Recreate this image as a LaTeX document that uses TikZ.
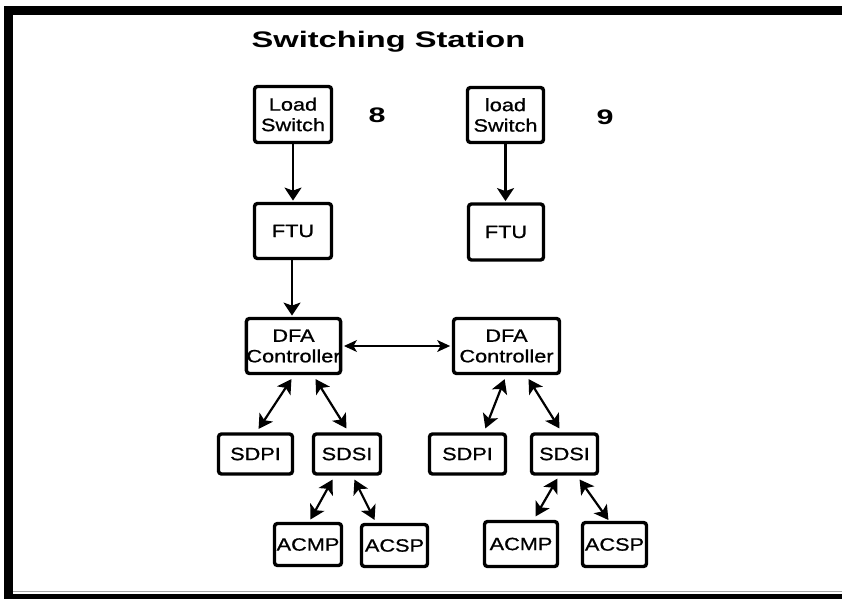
\documentclass[tikz,border=0pt]{standalone}
\usepackage{fontspec}
\setmainfont{Liberation Sans}
\newfontfamily\labelfont[FakeStretch=1.22,FakeBold=0.9]{Liberation Sans}
\newfontfamily\headfont[FakeStretch=1.45]{Liberation Sans}
\usetikzlibrary{arrows.meta}

\tikzset{
  unit/.style={draw, line width=3.4pt, rounded corners=3pt, inner sep=0pt,
    align=center, font=\labelfont\fontsize{17.8}{20.5}\selectfont},
  link/.style={line width=2.2pt, -{Stealth[length=13pt,width=17pt,inset=3pt]}, shorten >=1.2pt},
  duplex/.style={line width=2.2pt, {Stealth[length=14pt,width=16pt,inset=3.5pt]}-{Stealth[length=14pt,width=16pt,inset=3.5pt]}, shorten >=1pt, shorten <=1pt},
  peer/.style={line width=1.1pt, {Stealth[length=13pt,width=12pt,inset=3.5pt]}-{Stealth[length=13pt,width=12pt,inset=3.5pt]}, shorten >=1.7pt, shorten <=1.7pt},
  heading/.style={font=\headfont\bfseries\fontsize{22.5}{26}\selectfont, inner sep=0pt},
  tag/.style={font=\headfont\bfseries\fontsize{21}{24}\selectfont, inner sep=0pt}
}

\begin{document}
\begin{tikzpicture}[x=1pt, y=-1pt]
  \useasboundingbox (0,0) rectangle (842,599);
  \fill[white] (0,0) rectangle (842,599);

  % frame bars on top, left and bottom
  \fill[black] (4,6) rectangle (842,15);
  \fill[black] (4,6) rectangle (13,599);
  \fill[black] (4,593.5) rectangle (842,599);
  \draw[gray!70, line width=0.8pt] (13,591.5) -- (842,591.5);

  % title and station numbers
  \node[heading, anchor=base] (title) at (388.5,48) {Switching Station};
  \node[tag] (n8) at (377,115) {8};
  \node[tag] (n9) at (605,117) {9};

  % switches and terminal units
  \node[unit, minimum width=77pt, minimum height=56pt] (ls1) at (293,114.5) {Load\\Switch};
  \node[unit, minimum width=76pt, minimum height=55pt] (ls2) at (505.5,115) {load\\Switch};
  \node[unit, minimum width=77pt, minimum height=55pt] (ftu1) at (293,231) {FTU};
  \node[unit, minimum width=75pt, minimum height=56pt] (ftu2) at (506,232) {FTU};

  % controllers
  \node[unit, minimum width=94pt, minimum height=55pt] (dfa1) at (293.5,346) {DFA\\Controller};
  \node[unit, minimum width=106pt, minimum height=55pt] (dfa2) at (506.5,346) {DFA\\Controller};

  % interfaces
  \node[unit, minimum width=74pt, minimum height=40pt] (sdpi1) at (255.5,454) {SDPI};
  \node[unit, minimum width=67pt, minimum height=40pt] (sdsi1) at (347,454) {SDSI};
  \node[unit, minimum width=76pt, minimum height=40pt] (sdpi2) at (467.5,454) {SDPI};
  \node[unit, minimum width=66pt, minimum height=40pt] (sdsi2) at (564.5,454) {SDSI};

  % processors
  \node[unit, minimum width=67pt, minimum height=42pt] (acmp1) at (308,544.5) {ACMP};
  \node[unit, minimum width=66pt, minimum height=42pt] (acsp1) at (394.5,545.5) {ACSP};
  \node[unit, minimum width=73pt, minimum height=45pt] (acmp2) at (521,544) {ACMP};
  \node[unit, minimum width=64pt, minimum height=44pt] (acsp2) at (614.5,544.5) {ACSP};

  % one-way links
  \draw[link] (ls1.south) -- (ls1.south |- ftu1.north);
  \draw[link] (ls2.south) -- (ls2.south |- ftu2.north);
  \draw[link] ([xshift=-1pt]ftu1.south) -- ([xshift=-1pt]ftu1.south |- dfa1.north);

  % controller to controller
  \draw[peer] (dfa1.east) -- (dfa2.west);

  % two-way links below the controllers
  \draw[duplex] ([xshift=-1.5pt,yshift=-3pt]dfa1.south) -- ([xshift=2.5pt,yshift=2.5pt]sdpi1.north);
  \draw[duplex] ([xshift=21.5pt,yshift=-3pt]dfa1.south) -- ([xshift=0pt,yshift=3pt]sdsi1.north);
  \draw[duplex] ([xshift=-1.5pt,yshift=-3pt]dfa2.south) -- ([xshift=17.5pt,yshift=3pt]sdpi2.north);
  \draw[duplex] ([xshift=21.5pt,yshift=-3pt]dfa2.south) -- ([xshift=-4.5pt,yshift=3pt]sdsi2.north);

  \draw[duplex] ([xshift=-14pt,yshift=-3pt]sdsi1.south) -- ([xshift=2pt,yshift=1.5pt]acmp1.north);
  \draw[duplex] ([xshift=7pt,yshift=-3pt]sdsi1.south) -- ([xshift=-19.5pt,yshift=2pt]acsp1.north);
  \draw[duplex] ([xshift=-6.5pt,yshift=-2pt]sdsi2.south) -- ([xshift=14pt,yshift=2.5pt]acmp2.north);
  \draw[duplex] ([xshift=14.5pt,yshift=-3pt]sdsi2.south) -- ([xshift=-5.5pt,yshift=0pt]acsp2.north);
\end{tikzpicture}
\end{document}
